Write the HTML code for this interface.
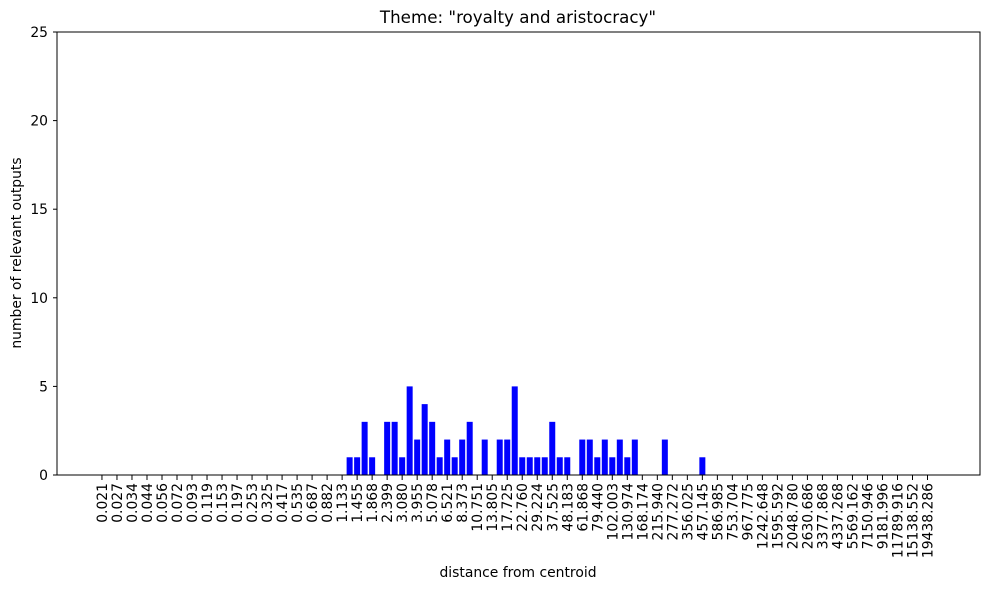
<!DOCTYPE html>
<html><head><meta charset="utf-8"><style>body{margin:0;background:#fff}svg{display:block}</style></head><body>
<svg id="s" width="989" height="590" xmlns="http://www.w3.org/2000/svg" font-family="DejaVu Sans, Liberation Sans, sans-serif" font-size="13.9">
<rect width="989" height="590" fill="#fff"/>
<g id="bars" fill="#0000ff"></g>
<rect x="57" y="32" width="923" height="443" fill="none" stroke="#000" stroke-width="1"/>
<g id="yt" stroke="#000"></g>
<g id="xt"></g>
<text x="518" y="23" text-anchor="middle" font-size="16.7">Theme: "royalty and aristocracy"</text>
<text x="518" y="577" text-anchor="middle">distance from centroid</text>
<text transform="translate(21,253) rotate(-90)" text-anchor="middle">number of relevant outputs</text>
</svg>
<script>
var ns="http://www.w3.org/2000/svg";
function el(t,a,p,txt){var e=document.createElementNS(ns,t);for(var k in a)e.setAttribute(k,a[k]);if(txt!==undefined)e.textContent=txt;p.appendChild(e);return e;}
var U=7.505;function X(k){return 57+(k+5.99)*U;}
var H=17.72;
var d={33:1,34:1,35:3,36:1,38:3,39:3,40:1,41:5,42:2,43:4,44:3,45:1,46:2,47:1,48:2,49:3,51:2,53:2,54:2,55:5,56:1,57:1,58:1,59:1,60:3,61:1,62:1,64:2,65:2,66:1,67:2,68:1,69:2,70:1,71:2,75:2,80:1};
var b=document.getElementById('bars');
for(var k in d){var h=d[k]*H;el('rect',{x:X(+k)-3,y:475-h,width:6,height:h},b);}
var yt=document.getElementById('yt');
for(var i=0;i<=5;i++){var y=475-i*5*H;el('line',{x1:53,x2:57,y1:y,y2:y},yt);el('text',{x:48,y:y+5,'text-anchor':'end',stroke:'none'},yt,String(i*5));}
var L="0.021 0.027 0.034 0.044 0.056 0.072 0.093 0.119 0.153 0.197 0.253 0.325 0.417 0.535 0.687 0.882 1.133 1.455 1.868 2.399 3.080 3.955 5.078 6.521 8.373 10.751 13.805 17.725 22.760 29.224 37.525 48.183 61.868 79.440 102.003 130.974 168.174 215.940 277.272 356.025 457.145 586.985 753.704 967.775 1242.648 1595.592 2048.780 2630.686 3377.868 4337.268 5569.162 7150.946 9181.996 11789.916 15138.552 19438.286".split(" ");
var xt=document.getElementById('xt');
L.forEach(function(s,i){var x=X(2*i);el('line',{x1:x,x2:x,y1:475,y2:480,stroke:'#000'},xt);el('text',{transform:'translate('+(x+5)+',483) rotate(-90)','text-anchor':'end'},xt,s);});
</script>
</body></html>
